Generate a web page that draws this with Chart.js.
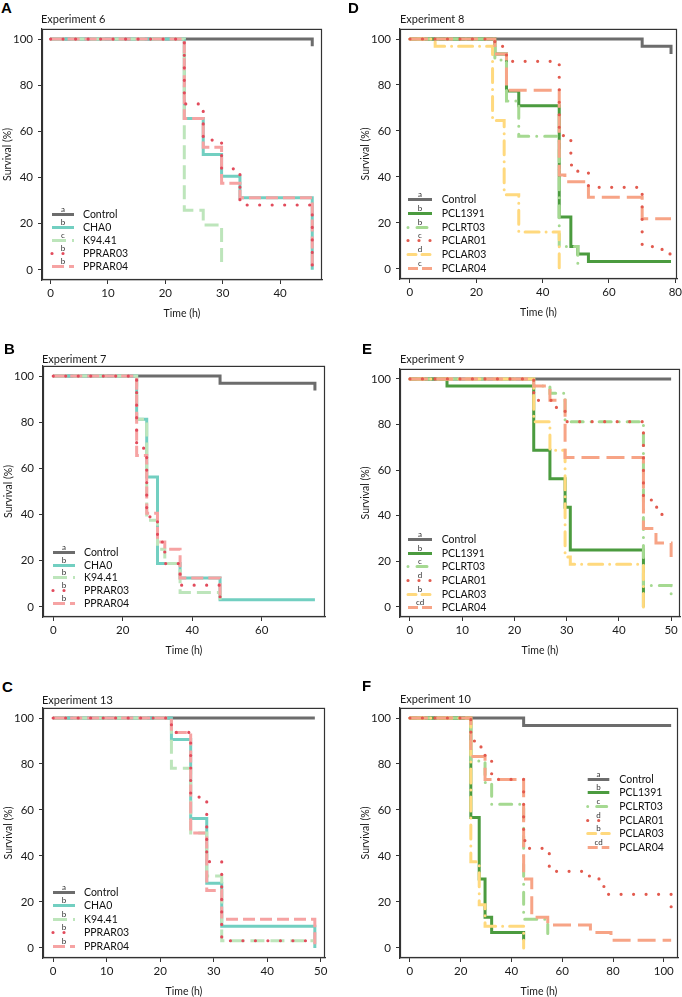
<!DOCTYPE html>
<html><head><meta charset="utf-8">
<script src="https://cdn.jsdelivr.net/npm/chart.js@4.4.1/dist/chart.umd.min.js"></script>
<style>
html,body{margin:0;padding:0;background:#fff;width:682px;height:997px;overflow:hidden;position:relative;font-family:Lato,sans-serif}
canvas{position:absolute}
.lbl{position:absolute;font:bold 15px "Liberation Sans",Arial,sans-serif;line-height:15px;color:#000}
.ttl{position:absolute;font:11px Lato,sans-serif;line-height:13px;color:#1a1a1a;white-space:nowrap}
</style></head><body>
<script>
// ---------- DATA: [time (h), survival (%)] ----------
// Experiment 6 (A)
const A_Control = [[0,100],[45.6,96.9]];
const A_CHA0    = [[0,100],[23.3,65.6],[26.6,50],[29.8,40.6],[33,31.25],[45.6,0]];
const A_K9441   = [[0,100],[23.3,25.8],[26.6,19.4],[29.8,3.2]];
const A_PPRAR03 = [[0,100],[23.3,71.9],[26.6,56.25],[29.8,43.75],[33,28.1],[45.6,0]];
const A_PPRAR04 = [[0,100],[23.3,65.6],[26.6,53.1],[29.8,37.5],[33,31.25],[45.6,0]];
// Experiment 7 (B)
const B_Control = [[0,100],[48,96.9],[75.3,93.75]];
const B_CHA0    = [[0,100],[24,81.25],[26.9,56.25],[30,18.75],[36.5,12.5],[48,3.1],[75.3,3.1]];
const B_K9441   = [[0,100],[24,81.25],[26.9,37.5],[30,25],[32.1,18.75],[36.5,6.25],[48,3.1]];
const B_PPRAR03 = [[0,100],[24,68.75],[26.9,39],[30,28.1],[32.1,18.75],[36.5,9.4],[48,3.1]];
const B_PPRAR04 = [[0,100],[24,65.6],[26.9,40.6],[30,28.1],[32.1,25],[36.5,12.5],[48,3.1]];
// Experiment 13 (C)
const C_Control = [[0,100],[48.9,100]];
const C_CHA0    = [[0,100],[22.1,90.6],[25.7,56.25],[28.7,28.1],[31.5,9.4],[48.9,0]];
const C_K9441   = [[0,100],[22.1,78.1],[25.7,50],[28.7,31.25],[31.5,3.1],[48.9,3.1]];
const C_PPRAR03 = [[0,100],[22.1,93.75],[25.7,65.6],[28.7,37.5],[31.5,3.1],[48.9,3.1]];
const C_PPRAR04 = [[0,100],[22.1,93.75],[25.7,50],[28.7,25],[31.5,12.5],[48.9,0]];
// Experiment 8 (D)
const D_Control = [[0,100],[70,96.8],[78.7,93.5]];
const D_PCL1391 = [[0,100],[25.6,93.5],[29.1,77.4],[32.8,71],[45,22.6],[48.5,9.7],[50.6,6.5],[53.8,3.2],[78.7,3.2]];
const D_PCLRT03 = [[0,100],[25.6,90.9],[29.1,73],[32.8,57.7],[45,9.7],[50.6,0]];
const D_PCLAR01 = [[0,100],[25.6,96.8],[29.1,90.3],[45,58],[48.5,45.2],[50.6,41.9],[53.8,35.5],[70,9.7],[76,6.5],[78.7,6.5]];
const D_PCLAR03 = [[0,100],[7.6,96.8],[24.9,64.5],[28.4,32.3],[32.8,16.1],[45,0]];
const D_PCLAR04 = [[0,100],[25.6,93.5],[29.1,77.7],[45,40.8],[46.7,37.9],[53.8,31.2],[70,21.8],[78.7,21.8]];
// Experiment 9 (E)
const E_Control = [[0,100],[50,100]];
const E_PCL1391 = [[0,100],[7.1,96.9],[23.7,68.75],[26.8,56.25],[29.7,43.75],[30.7,25],[44.7,0]];
const E_PCLRT03 = [[0,100],[23.7,96.9],[26.8,93.75],[29.7,81.25],[44.7,9.4],[50,3.1]];
const E_PCLAR01 = [[0,100],[23.7,90.6],[27.5,87.5],[29.7,81.25],[44.7,46.9],[46.5,43.75],[48,40.6],[50,40.6]];
const E_PCLAR03 = [[0,100],[23.7,81.25],[26.8,68.75],[29.7,21.9],[30.7,18.75],[44.7,0]];
const E_PCLAR04 = [[0,100],[23.7,96.9],[26.8,90.6],[29.7,65.6],[44.7,34.4],[47.1,28.1],[50,21.9]];
// Experiment 10 (F)
const F_Control = [[0,100],[44.8,96.7],[102.9,96.7]];
const F_PCL1391 = [[0,100],[24,56.7],[27.3,30],[29.6,13.3],[32.2,6.7],[44.8,3.3]];
const F_PCLRT03 = [[0,100],[24,81.25],[29.6,71.9],[32.2,62.5],[44.8,12.5],[54.3,6.25]];
const F_PCLAR01 = [[0,100],[24,90],[28,86.7],[29.6,83.3],[32.2,73.3],[44.8,46.7],[47,43.3],[54.9,33.3],[70.7,30],[74.6,26.7],[77,23.3],[102.9,13.3]];
const F_PCLAR03 = [[0,100],[24,37.5],[27.3,18.75],[29.6,9.4],[44.8,0]];
const F_PCLAR04 = [[0,100],[24,83.3],[29.6,73.3],[44.8,30],[48,13.3],[54.3,10],[71.1,6.7],[79.2,3.3],[102.9,3.3]];

// Labels / letters / ticks
const leftStrains  = ['Control','CHA0','K94.41','PPRAR03','PPRAR04'];
const rightStrains = ['Control','PCL1391','PCLRT03','PCLAR01','PCLAR03','PCLAR04'];
const lettersA = ['a','b','c','b','b'];
const lettersB = ['a','b','b','b','b'];
const lettersC = ['a','b','b','b','b'];
const lettersD = ['a','b','b','c','d','c'];
const lettersE = ['a','b','c','d','b','cd'];
const lettersF = ['a','b','c','d','b','cd'];
const yTicks  = [0,20,40,60,80,100];
const xTicksA = [0,10,20,30,40];
const xTicksB = [0,20,40,60];
const xTicksC = [0,10,20,30,40,50];
const xTicksD = [0,20,40,60,80];
const xTicksE = [0,10,20,30,40,50];
const xTicksF = [0,20,40,60,80,100];

// ---------- STYLES ----------
const FONT = 'Lato, sans-serif';
const ST = {
  Control:{color:'#6c6c6c',dash:[],order:6},
  CHA0:{color:'#72cfc1',dash:[],order:5},
  'K94.41':{color:'#bde5bb',dash:[14,6],order:4},
  PPRAR04:{color:'#f6a3a3',dash:[12,5],order:3},
  PPRAR03:{color:'#e24b5c',dash:[0,12.5],cap:'round',width:3.2,order:2,legendDash:[0,11]},
  PCL1391:{color:'#4b9b3f',dash:[],order:5},
  PCLRT03:{color:'#a5d991',dash:[0,8,12,8],cap:'round',order:4,legendDash:[0,9,10,9]},
  PCLAR03:{color:'#ffd97e',dash:[14,7,0,7],cap:'round',order:3,legendDash:[8,6,8]},
  PCLAR04:{color:'#f7a486',dash:[18,7],order:2,legendDash:[10,4,10]},
  PCLAR01:{color:'#e25a4e',dash:[0,12.5],cap:'round',width:3.2,order:1,legendDash:[0,11]}
};

const boxLegend = {
  id:'boxLegend',
  afterDatasetsDraw(chart){
    const a = chart.chartArea, c = chart.ctx;
    c.save(); c.strokeStyle='#333'; c.lineWidth=1.2;
    c.strokeRect(a.left+0.5, a.top+0.5, a.right-a.left-1, a.bottom-a.top-1);
    c.restore();
  },
  afterDraw(chart){
    const p = chart.options.plugins.boxLegend, a = chart.chartArea, c = chart.ctx;
    if(!p) return;
    p.items.forEach((it,i)=>{
      const y = Math.round(a.top + p.y + i*p.dy) + 0.5;
      const st = ST[it.label];
      c.save();
      c.strokeStyle = st.color; c.lineWidth = st.width||3;
      c.lineCap = st.cap||'butt';
      c.setLineDash(st.legendDash || st.dash);
      c.beginPath(); c.moveTo(a.left+p.x0, y); c.lineTo(a.left+p.x1, y); c.stroke();
      c.setLineDash([]);
      c.fillStyle='#333'; c.font='8px '+FONT; c.textAlign='center'; c.textBaseline='alphabetic';
      c.fillText(it.letter, a.left+(p.x0+p.x1)/2, y-2.5);
      c.fillStyle='#111'; c.font='10.5px '+FONT; c.textAlign='left'; c.textBaseline='middle';
      c.fillText(it.label, a.left+p.tx, y+0.5);
      c.restore();
    });
  }
};

function panel(p){
  const cl = p.box.l-43, ct = p.box.t-10;
  const W = p.box.r+13-cl, H = p.box.b+40-ct;
  const cv = document.createElement('canvas');
  cv.width=W; cv.height=H;
  cv.style.left=cl+'px'; cv.style.top=ct+'px'; cv.style.width=W+'px'; cv.style.height=H+'px';
  document.body.appendChild(cv);
  const lt = document.createElement('div'); lt.className='lbl'; lt.textContent=p.letter;
  lt.style.left=p.letterPos[0]+'px'; lt.style.top=p.letterPos[1]+'px'; document.body.appendChild(lt);
  const tt = document.createElement('div'); tt.className='ttl'; tt.textContent=p.title;
  tt.style.left=p.titlePos[0]+'px'; tt.style.top=p.titlePos[1]+'px'; document.body.appendChild(tt);
  const tickFont={family:FONT,size:11.5};
  new Chart(cv.getContext('2d'),{
    type:'line',
    data:{datasets:p.names.map((n,i)=>{const st=ST[n];return {
      label:n, data:p.series[i].map(d=>({x:d[0],y:d[1]})), stepped:'before',
      borderColor:st.color, borderWidth:st.width||3, borderDash:st.dash, borderCapStyle:st.cap||'butt',
      borderJoinStyle:'miter', pointRadius:0, fill:false, order:st.order, tension:0, clip:4};})},
    options:{
      responsive:false, animation:false, events:[], devicePixelRatio:1,
      layout:{padding:{left:2,top:10,right:13,bottom:0}},
      plugins:{legend:{display:false},tooltip:{enabled:false},
        boxLegend:{items:p.names.map((n,i)=>({label:n,letter:p.letters[i]})),...p.legend}},
      scales:{
        x:{type:'linear',min:p.x[0],max:p.x[1],
          afterFit:s=>{s.height=40;},
          afterBuildTicks:s=>{s.ticks=p.xTicks.map(v=>({value:v}));},
          grid:{drawOnChartArea:false,drawTicks:true,tickLength:4,color:'#333',tickColor:'#333'},
          border:{display:true,color:'#333',width:1.2},
          ticks:{font:tickFont,color:'#1a1a1a',padding:2,maxRotation:0,autoSkip:false},
          title:{display:true,text:'Time (h)',font:{family:FONT,size:10.5},color:'#1a1a1a',padding:0}},
        y:{type:'linear',min:-4.4,max:104.4,
          afterFit:s=>{s.width=41;},
          afterBuildTicks:s=>{s.ticks=yTicks.map(v=>({value:v}));},
          grid:{drawOnChartArea:false,drawTicks:true,tickLength:4,color:'#333',tickColor:'#333'},
          border:{display:true,color:'#333',width:1.2},
          ticks:{font:tickFont,color:'#1a1a1a',padding:5,autoSkip:false},
          title:{display:true,text:'Survival (%)',font:{family:FONT,size:10.5},color:'#1a1a1a',padding:0}}
      }
    },
    plugins:[boxLegend]
  });
}

const legL = {x0:10,x1:32,tx:41,dy:12.9};
panel({letter:'A',letterPos:[1,0],title:'Experiment 6',titlePos:[41,12],
  box:{l:42,r:322,t:27,b:280},x:[-1.5,47.3],xTicks:xTicksA,
  names:leftStrains,letters:lettersA,series:[A_Control,A_CHA0,A_K9441,A_PPRAR03,A_PPRAR04],
  legend:{...legL,y:185.3}});
panel({letter:'B',letterPos:[4,341],title:'Experiment 7',titlePos:[42,352],
  box:{l:43,r:325,t:364,b:617},x:[-2.95,78.2],xTicks:xTicksB,
  names:leftStrains,letters:lettersB,series:[B_Control,B_CHA0,B_K9441,B_PPRAR03,B_PPRAR04],
  legend:{...legL,y:186,dy:12.75}});
panel({letter:'C',letterPos:[2,679],title:'Experiment 13',titlePos:[42,693],
  box:{l:43,r:325,t:706,b:958},x:[-1.9,50.8],xTicks:xTicksC,
  names:leftStrains,letters:lettersC,series:[C_Control,C_CHA0,C_K9441,C_PPRAR03,C_PPRAR04],
  legend:{...legL,y:184,dy:13.5}});
const legR = {x0:8,x1:32,tx:41.7,dy:13.7};
panel({letter:'D',letterPos:[348,0],title:'Experiment 8',titlePos:[400,12],
  box:{l:400,r:677,t:27,b:279},x:[-3.0,80.5],xTicks:xTicksD,
  names:rightStrains,letters:lettersD,series:[D_Control,D_PCL1391,D_PCLRT03,D_PCLAR01,D_PCLAR03,D_PCLAR04],
  legend:{...legR,y:170.3}});
panel({letter:'E',letterPos:[362,341],title:'Experiment 9',titlePos:[400,352],
  box:{l:400,r:680,t:367,b:617},x:[-1.9,51.7],xTicks:xTicksE,
  names:rightStrains,letters:lettersE,series:[E_Control,E_PCL1391,E_PCLRT03,E_PCLAR01,E_PCLAR03,E_PCLAR04],
  legend:{...legR,y:170.3,dy:13.6}});
panel({letter:'F',letterPos:[362,678],title:'Experiment 10',titlePos:[400,692],
  box:{l:400,r:678,t:706,b:958},x:[-3.9,105.6],xTicks:xTicksF,
  names:rightStrains,letters:lettersF,series:[F_Control,F_PCL1391,F_PCLRT03,F_PCLAR01,F_PCLAR03,F_PCLAR04],
  legend:{x0:187.7,x1:209.3,tx:219.3,y:70.7,dy:13.67}});
</script>
</body></html>
